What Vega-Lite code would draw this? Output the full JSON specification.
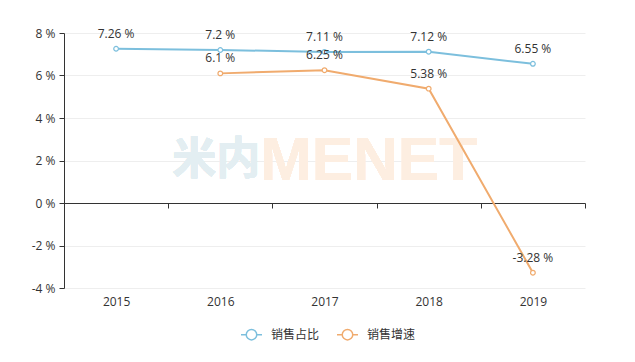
{
  "$schema": "https://vega.github.io/schema/vega-lite/v6.json",
  "width": 521,
  "height": 255,
  "autosize": {"type": "none"},
  "padding": {"left": 64, "top": 33, "right": 50, "bottom": 74},
  "background": "white",
  "config": {
    "view": {"stroke": null},
    "font": "Noto Sans CJK SC",
    "axis": {"labelFont": "Open Sans", "labelFontSize": 12, "labelColor": "#333"}
  },
  "data": {
    "values": [
      {"year": "2015", "series": "销售占比", "value": 7.26},
      {"year": "2016", "series": "销售占比", "value": 7.2},
      {"year": "2017", "series": "销售占比", "value": 7.11},
      {"year": "2018", "series": "销售占比", "value": 7.12},
      {"year": "2019", "series": "销售占比", "value": 6.55},
      {"year": "2016", "series": "销售增速", "value": 6.1},
      {"year": "2017", "series": "销售增速", "value": 6.25},
      {"year": "2018", "series": "销售增速", "value": 5.38},
      {"year": "2019", "series": "销售增速", "value": -3.28}
    ]
  },
  "transform": [{"calculate": "datum.value + ' %'", "as": "label"}],
  "encoding": {
    "x": {
      "field": "year", "type": "ordinal", "title": null,
      "scale": {"type": "band", "paddingInner": 0, "paddingOuter": 0, "domain": ["2015", "2016", "2017", "2018", "2019"]},
      "axis": {
        "orient": "bottom", "offset": -85, "domain": true, "domainColor": "#333", "domainWidth": 1,
        "ticks": true, "tickColor": "#333", "tickSize": 5, "tickBand": "extent",
        "labelAngle": 0, "labelPadding": 88, "labelBaseline": "top", "grid": false
      }
    },
    "y": {
      "field": "value", "type": "quantitative", "title": null,
      "scale": {"domain": [-4, 8], "nice": false, "zero": false},
      "axis": {
        "values": [-4, -2, 0, 2, 4, 6, 8], "labelExpr": "datum.value + ' %'",
        "domain": true, "domainColor": "#333", "ticks": true, "tickColor": "#333", "tickSize": 5,
        "labelPadding": 4, "grid": true, "gridColor": "#eeeeee", "gridWidth": 1
      }
    },
    "color": {
      "field": "series", "type": "nominal", "title": null,
      "scale": {"domain": ["销售占比", "销售增速"], "range": ["#7cbfdd", "#f0ab6e"]},
      "legend": {
        "orient": "none", "legendX": 176, "legendY": 290, "direction": "horizontal",
        "symbolType": "M-1,0L-0.5,0M0.5,0L1,0M0.5,0A0.5,0.5,0,1,1,-0.5,0A0.5,0.5,0,1,1,0.5,0",
        "symbolSize": 441, "symbolStrokeWidth": 1.5, "symbolFillColor": "white",
        "labelFontSize": 12, "labelColor": "#333", "labelFont": "Noto Sans CJK SC", "labelOffset": 8, "columnPadding": 14
      }
    }
  },
  "layer": [
    {
      "mark": {"type": "text", "text": "米内", "font": "Noto Sans CJK SC", "fontWeight": "bold", "fontSize": 44, "dx": -4, "baseline": "middle"},
      "encoding": {"x": {"datum": "2016"}, "y": {"datum": 2}, "color": {"value": "#e3eef2"}}
    },
    {
      "mark": {"type": "text", "text": "MENET", "font": "Liberation Sans", "fontWeight": "bold", "fontSize": 62, "dx": 44, "baseline": "middle"},
      "encoding": {"x": {"datum": "2017"}, "y": {"datum": 2}, "color": {"value": "#fdeee1"}}
    },
    {
      "mark": {"type": "line", "strokeWidth": 2, "point": {"filled": false, "fill": "white", "size": 22, "strokeWidth": 1.2}}
    },
    {
      "mark": {"type": "text", "baseline": "bottom", "dy": -8, "fontSize": 12, "font": "Open Sans"},
      "encoding": {"text": {"field": "label"}, "color": {"value": "#333"}}
    }
  ]
}
